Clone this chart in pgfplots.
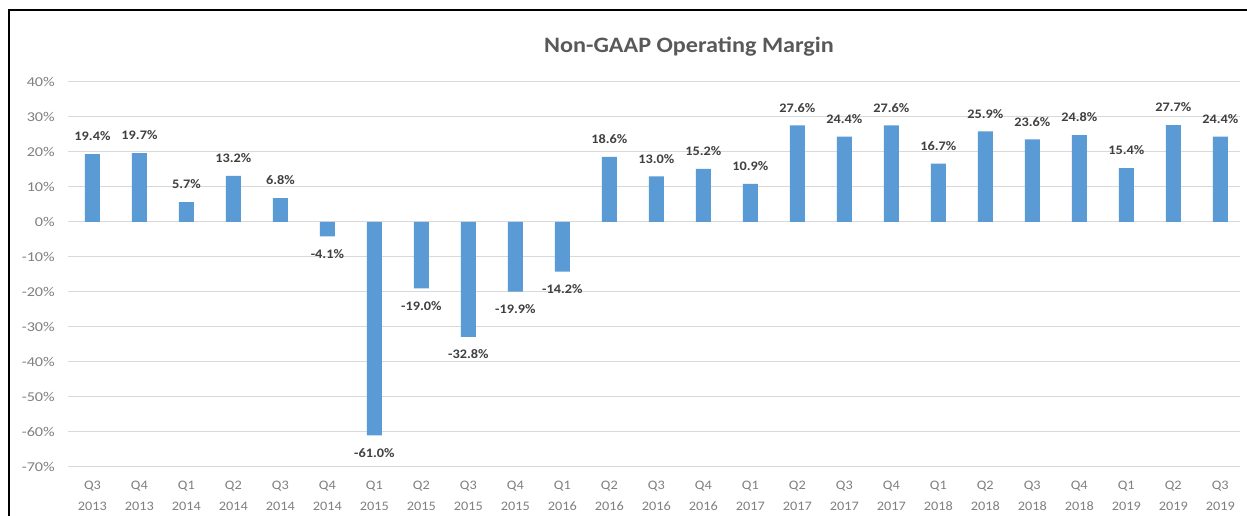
\documentclass[border=0pt]{standalone}
\usepackage{pgfplots}
\pgfplotsset{compat=1.18}
\usepackage{pgfplotstable}
\usepackage{fontspec}
\setmainfont{Carlito}
\definecolor{barblue}{HTML}{5B9BD5}
\definecolor{gridgray}{HTML}{D9D9D9}
\definecolor{ticktext}{HTML}{808080}
\definecolor{labeltext}{HTML}{404040}
\definecolor{titletext}{HTML}{595959}
\pgfplotstableread{
x v
0 19.4
1 19.7
2 5.7
3 13.2
4 6.8
5 -4.1
6 -61.0
7 -19.0
8 -32.8
9 -19.9
10 -14.2
11 18.6
12 13.0
13 15.2
14 10.9
15 27.6
16 24.4
17 27.6
18 16.7
19 25.9
20 23.6
21 24.8
22 15.4
23 27.7
24 24.4
}\margin
\begin{document}
\begin{tikzpicture}[x=1pt,y=1pt]
\path[use as bounding box] (0,0) rectangle (1247,516);
\fill[white] (0,0) rectangle (1247,516);
\draw[black, line width=2pt] (9,0) -- (9,506) -- (1247,506);
\node[text=titletext, font=\bfseries\fontsize{22}{24}\selectfont, xscale=1.1] at (689,469) {Non-GAAP Operating Margin};
\begin{axis}[
  at={(68pt,49pt)}, anchor=south west,
  scale only axis, width=1172pt, height=385pt,
  xmin=-0.52, xmax=24.42,
  ymin=-70, ymax=40,
  ytick={-70,-60,...,40},
  xtick={0,...,24},
  xticklabels={{Q3\\2013},{Q4\\2013},{Q1\\2014},{Q2\\2014},{Q3\\2014},{Q4\\2014},{Q1\\2015},{Q2\\2015},{Q3\\2015},{Q4\\2015},{Q1\\2016},{Q2\\2016},{Q3\\2016},{Q4\\2016},{Q1\\2017},{Q2\\2017},{Q3\\2017},{Q4\\2017},{Q1\\2018},{Q2\\2018},{Q3\\2018},{Q4\\2018},{Q1\\2019},{Q2\\2019},{Q3\\2019}},
  xticklabel style={align=center, text=ticktext, font=\fontsize{13}{21}\selectfont, anchor=north, yshift=-11pt, xscale=1.1},
  yticklabel style={text=ticktext, font=\fontsize{13.5}{14}\selectfont, anchor=east, xshift=-9pt, xscale=1.2},
  yticklabel={\pgfmathprintnumber{\tick}\%},
  /pgf/number format/assume math mode=true,
  ymajorgrids,
  grid style={color=gridgray, line width=1pt},
  axis line style={draw=none},
  major tick length=0pt,
  ybar, bar width=15pt,
  clip=false,
  nodes near coords={\pgfmathprintnumber[fixed, fixed zerofill, precision=1]{\pgfplotspointmeta}\%},
  every node near coord/.append style={text=labeltext, font=\bfseries\fontsize{13}{14}\selectfont, inner xsep=0pt, inner ysep=13pt, xscale=1.1},
]
\addplot[fill=barblue, draw=none] table[x=x, y=v] {\margin};
\end{axis}
\end{tikzpicture}
\end{document}
